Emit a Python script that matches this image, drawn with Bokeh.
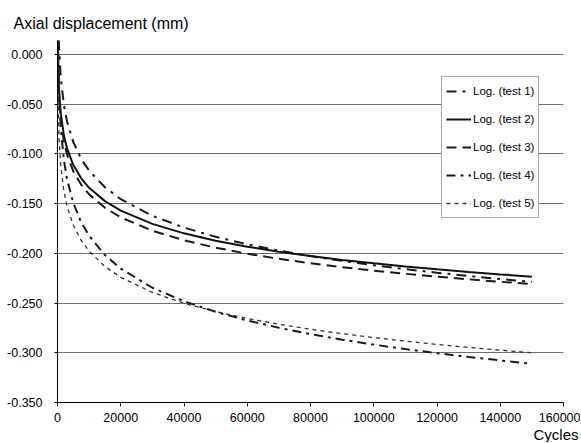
from bokeh.plotting import figure
from bokeh.models import Range1d, FixedTicker, PrintfTickFormatter, Legend, LegendItem, Title
from bokeh.embed import file_html
from bokeh.resources import INLINE

cycles = [20, 50, 100, 200, 500, 1000, 2000, 3000, 5000, 7500, 10000, 15000, 20000,
          30000, 40000, 50000, 60000, 70000, 80000, 90000, 100000, 110000, 120000,
          130000, 140000, 150000]

test1 = [0.1398, 0.1019, 0.0733, 0.0447, 0.0068, -0.0218, -0.0504, -0.0672, -0.0883,
         -0.1050, -0.1169, -0.1336, -0.1455, -0.1623, -0.1741, -0.1834, -0.1909,
         -0.1973, -0.2028, -0.2076, -0.2120, -0.2159, -0.2195, -0.2228, -0.2259, -0.2287]
test2 = [0.0709, 0.0407, 0.0178, -0.0050, -0.0353, -0.0582, -0.0810, -0.0944, -0.1113,
         -0.1246, -0.1341, -0.1475, -0.1570, -0.1704, -0.1799, -0.1873, -0.1933,
         -0.1984, -0.2028, -0.2067, -0.2101, -0.2133, -0.2161, -0.2188, -0.2212, -0.2235]
test3 = [0.0662, 0.0357, 0.0126, -0.0104, -0.0409, -0.0640, -0.0871, -0.1006, -0.1176,
         -0.1311, -0.1407, -0.1542, -0.1638, -0.1773, -0.1869, -0.1943, -0.2004,
         -0.2055, -0.2100, -0.2139, -0.2174, -0.2206, -0.2235, -0.2261, -0.2286, -0.2309]
test4 = [0.1128, 0.0693, 0.0364, 0.0034, -0.0401, -0.0730, -0.1059, -0.1252, -0.1495,
         -0.1687, -0.1824, -0.2017, -0.2153, -0.2346, -0.2482, -0.2588, -0.2675,
         -0.2748, -0.2812, -0.2868, -0.2918, -0.2963, -0.3004, -0.3042, -0.3077, -0.3110]
test5 = [0.0364, 0.0018, -0.0243, -0.0504, -0.0850, -0.1111, -0.1373, -0.1525, -0.1718,
         -0.1871, -0.1979, -0.2132, -0.2241, -0.2393, -0.2502, -0.2586, -0.2655,
         -0.2713, -0.2763, -0.2808, -0.2847, -0.2883, -0.2916, -0.2946, -0.2974, -0.3000]

series_names = ["Log. (test 1)", "Log. (test 2)", "Log. (test 3)", "Log. (test 4)", "Log. (test 5)"]
x_ticks = [0, 20000, 40000, 60000, 80000, 100000, 120000, 140000, 160000]
y_ticks = [-0.35, -0.30, -0.25, -0.20, -0.15, -0.10, -0.05, 0.0]

FONT = "Liberation Sans"
INK = "#000000"

p = figure(width=580, height=442, output_backend="svg", toolbar_location=None,
           x_range=Range1d(0, 160000), y_range=Range1d(-0.35, 0.014),
           min_border_left=57, min_border_right=17, min_border_top=40, min_border_bottom=40)
p.outline_line_color = None
p.background_fill_color = "white"
p.border_fill_color = "white"

# axes
p.xaxis.ticker = FixedTicker(ticks=x_ticks)
p.yaxis.ticker = FixedTicker(ticks=y_ticks)
p.xaxis.formatter = PrintfTickFormatter(format="%d")
p.yaxis.formatter = PrintfTickFormatter(format="%.3f")
for ax in (p.xaxis, p.yaxis):
    ax.axis_line_color = "black"
    ax.axis_line_width = 1
    ax.major_tick_line_color = "black"
    ax.minor_tick_line_color = None
    ax.major_tick_in = 0
    ax.major_label_text_font = FONT
    ax.major_label_text_font_size = "12.5px"
    ax.major_label_text_color = INK
p.xaxis.major_tick_out = 4
p.xaxis.major_label_standoff = 6
p.yaxis.major_tick_out = 3
p.yaxis.major_label_standoff = 12

p.xgrid.grid_line_color = None
p.ygrid.grid_line_color = "#6e6e6e"
p.ygrid.grid_line_width = 1.2

r1 = p.line(cycles, test1, line_color="#1a1a1a", line_width=2, line_dash="10 6 3 6")
r2 = p.line(cycles, test2, line_color="#111111", line_width=2)
r3 = p.line(cycles, test3, line_color="#1a1a1a", line_width=2, line_dash="10 6")
r4 = p.line(cycles, test4, line_color="#1a1a1a", line_width=2, line_dash="9 5 3 5")
r5 = p.line(cycles, test5, line_color="#333333", line_width=1.3, line_dash="4 4")

legend = Legend(items=[LegendItem(label=n, renderers=[r]) for n, r in
                       zip(series_names, [r1, r2, r3, r4, r5])],
                location=(384, 184))
legend.label_text_font = FONT
legend.label_text_font_size = "11.5px"
legend.label_text_color = INK
legend.glyph_width = 25
legend.glyph_height = 20
legend.label_height = 20
legend.spacing = 8
legend.padding = 4
legend.label_standoff = 2
legend.margin = 0
legend.border_line_color = "#555555"
legend.border_line_width = 1.5
legend.background_fill_color = "white"
legend.background_fill_alpha = 1.0
p.add_layout(legend, "center")

title = Title(text="Axial displacement (mm)", align="left", offset=-44, standoff=18,
              text_font=FONT, text_font_size="16px", text_font_style="normal",
              text_color=INK)
p.add_layout(title, "above")

xlab = Title(text="Cycles", align="right", offset=-15, standoff=-2,
             text_font=FONT, text_font_size="15px", text_font_style="normal",
             text_color=INK)
p.add_layout(xlab, "below")

open("out.html", "w").write(file_html(p, INLINE))
